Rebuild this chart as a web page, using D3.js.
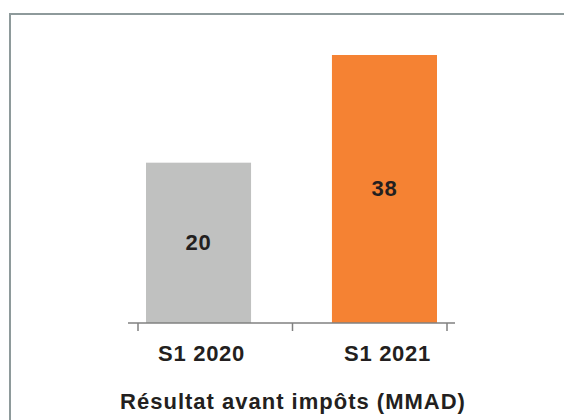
<!DOCTYPE html>
<html>
<head>
<meta charset="utf-8">
<script src="https://cdn.jsdelivr.net/npm/d3@7"></script>
<style>
  body { margin: 0; background: #fff; }
  text { font-family: "Liberation Sans", Arial, sans-serif; font-weight: bold; fill: #231f20; }
</style>
</head>
<body>
<div id="okvir"></div>
<script>
// podaci
const kategorije = ["S1 2020", "S1 2021"]
const vrijednosti = [20, 38]
const boje = ["#c0c1c0", "#f58233"]
const naslov = "Résultat avant impôts (MMAD)"

function crtajGraf(){
    const podatci = kategorije.map((k, i) => ({ kategorija: k, vrijednost: vrijednosti[i], boja: boje[i] }))

    //1. Dimenzije
    const dimenzije = {
        sirina: 564,
        visina: 420,
        baza: 323,
        vrh: 55,
    }

    //2. Canvas
    const okvir = d3.select("#okvir")
        .append("svg")
        .attr("width", dimenzije.sirina)
        .attr("height", dimenzije.visina)

    // sivi okvir (lijevo i gore)
    okvir.append("rect")
        .attr("x", 10)
        .attr("y", 14)
        .attr("width", 700)
        .attr("height", 700)
        .attr("fill", "none")
        .attr("stroke", "#8e9a9b")
        .attr("stroke-width", 2)

    //3. Skale  (originalni graf nije proporcionalan pa os ne krece od 0)
    const xSkala = d3.scaleBand()
        .domain(kategorije)
        .range([146, 437])
        .paddingInner(0.435)

    const granicaSkala = d3.scalePoint()
        .domain([0, 1, 2])
        .range([138, 447])

    const ySkala = d3.scaleLinear()
        .domain([-6.8, 38])
        .range([dimenzije.baza, dimenzije.vrh])

    //4. Stupci
    const stupci = okvir.append("g").attr("class", "stupci")
        .selectAll("g")
        .data(podatci)
        .join("g")

    stupci.append("rect")
        .attr("x", d => xSkala(d.kategorija))
        .attr("y", d => ySkala(d.vrijednost))
        .attr("width", xSkala.bandwidth())
        .attr("height", d => ySkala(ySkala.domain()[0]) - ySkala(d.vrijednost))
        .attr("fill", d => d.boja)

    stupci.append("text")
        .attr("x", d => xSkala(d.kategorija) + xSkala.bandwidth() / 2)
        .attr("y", d => (ySkala(d.vrijednost) + dimenzije.baza) / 2 + 7)
        .attr("text-anchor", "middle")
        .style("font-size", "22px")
        .style("letter-spacing", "0.8px")
        .text(d => d.vrijednost)

    //5. Os
    const os = okvir.append("g").attr("class", "x-os")
    os.append("line")
        .attr("x1", 128)
        .attr("x2", 455)
        .attr("y1", dimenzije.baza)
        .attr("y2", dimenzije.baza)
        .attr("stroke", "#808080")
        .attr("stroke-width", 1.5)

    os.selectAll(".kvacica")
        .data(granicaSkala.domain())
        .join("line")
        .attr("class", "kvacica")
        .attr("x1", d => granicaSkala(d))
        .attr("x2", d => granicaSkala(d))
        .attr("y1", dimenzije.baza)
        .attr("y2", dimenzije.baza + 8)
        .attr("stroke", "#808080")
        .attr("stroke-width", 1.5)

    os.selectAll(".oznaka")
        .data(kategorije)
        .join("text")
        .attr("class", "oznaka")
        .attr("x", d => xSkala(d) + xSkala.bandwidth() / 2 + 3)
        .attr("y", 361)
        .attr("text-anchor", "middle")
        .style("font-size", "22px")
        .style("letter-spacing", "0.7px")
        .text(d => d)

    okvir.append("text")
        .attr("x", 293)
        .attr("y", 409)
        .attr("text-anchor", "middle")
        .style("font-size", "22px")
        .style("letter-spacing", "1px")
        .text(naslov)
}
crtajGraf()
</script>
</body>
</html>
